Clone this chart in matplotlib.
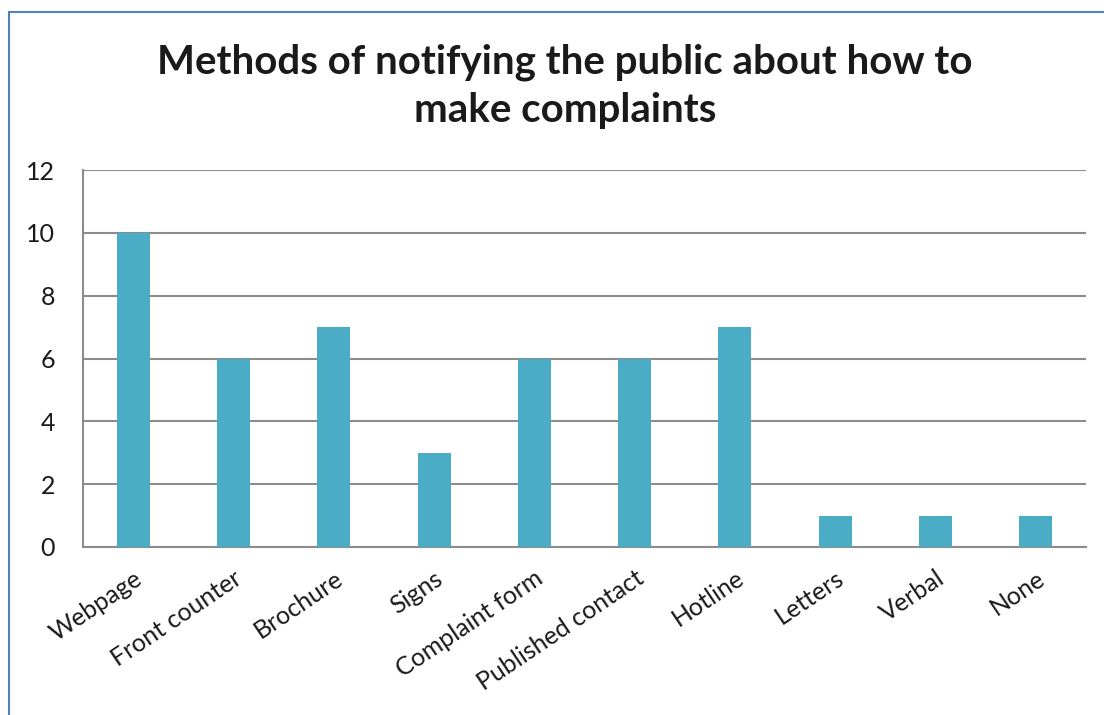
import matplotlib
matplotlib.use("Agg")
import matplotlib.pyplot as plt
from matplotlib.patches import Rectangle

categories = ["Webpage", "Front counter", "Brochure", "Signs", "Complaint form",
              "Published contact", "Hotline", "Letters", "Verbal", "None"]
values = [10, 6, 7, 3, 6, 6, 7, 1, 1, 1]
yticks = [0, 2, 4, 6, 8, 10, 12]
title = "Methods of notifying the public about how to\nmake complaints"

plt.rcParams['font.family'] = ['Lato', 'DejaVu Sans']

fig = plt.figure(figsize=(11.04, 7.15), dpi=100)
ax = fig.add_axes([83/1104, 1-547/715, (1086-83)/1104, (547-170)/715])

x = list(range(len(categories)))
ax.bar(x, values, width=0.33, color='#4BACC6', zorder=3)
ax.set_xlim(-0.5, len(categories)-0.5)
ax.set_ylim(0, 12)
ax.set_yticks(yticks)
ax.set_yticklabels([str(t) for t in yticks], fontsize=18, color='#1a1a1a')
ax.set_xticks(x)
ax.set_xticklabels(categories, rotation=34, ha='right', rotation_mode='anchor',
                   fontsize=18, color='#1a1a1a')
ax.tick_params(axis='y', length=0, pad=20)
ax.tick_params(axis='x', length=0, pad=14)
ax.grid(axis='y', color='#8c8c8c', linewidth=1.5, zorder=0)
for s in ['top', 'right']:
    ax.spines[s].set_visible(False)
for s in ['left', 'bottom']:
    ax.spines[s].set_color('#8c8c8c')
    ax.spines[s].set_linewidth(1.5)

fig.text(565/1104, 1-86/715, title, ha='center', va='center', fontsize=29,
         fontweight='bold', linespacing=1.38, color='#1a1a1a')

border = Rectangle((9/1104, -0.05), 1.2, 1-12/715+0.05, transform=fig.transFigure,
                   fill=False, edgecolor='#4F81BD', linewidth=1.5)
fig.patches.append(border)

fig.savefig("out.png", dpi=100)
